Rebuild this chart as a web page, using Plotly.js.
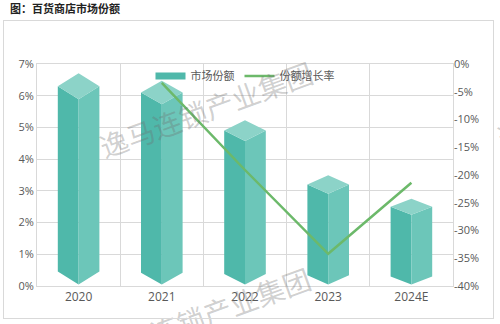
<!DOCTYPE html>
<html>
<head>
<meta charset="utf-8">
<script src="https://cdn.plot.ly/plotly-3.0.1.min.js"></script>
<style>
  html, body { margin: 0; padding: 0; background: #fff; }
  #wrap { position: relative; width: 500px; height: 324px; }
  #chart { width: 500px; height: 324px; }
  #frame { position: absolute; left: 3px; top: 20px; width: 489px; height: 297px;
           border: 1px solid #d9d9d9; pointer-events: none; }
</style>
</head>
<body>
<div id="wrap">
  <div id="chart"></div>
  <div id="frame"></div>
</div>
<script>
// ---- data ----
const categories = ['2020', '2021', '2022', '2023', '2024E'];
const marketShare = [6.3, 6.1, 4.9, 3.2, 2.5];          // %
const shareGrowth = [null, -3.4, -19.1, -34.2, -21.4];   // %
const leftTickVals = [0, 1, 2, 3, 4, 5, 6, 7];
const rightTickVals = [0, -5, -10, -15, -20, -25, -30, -35, -40];
const titleText = '图：百货商店市场份额';
const watermarkText = '逸马连锁产业集团';

// ---- style ----
const HW = 0.25;          // half width of a prism (category units)
const BASE = 0.05;        // front bottom vertex level
const colLeft = '#4fb8aa';
const colRight = '#6cc6b9';
const colTop = '#8cd3c8';
const lineCol = '#6cb96a';
const tickCol = '#595959';
const gridCol = '#d9d9d9';
const fontFam = 'Open Sans, Noto Sans CJK SC, sans-serif';

const xIdx = categories.map((c, i) => i);

function faces() {
  const L = {x: [], y: []}, R = {x: [], y: []}, T = {x: [], y: []};
  marketShare.forEach((v, i) => {
    const d = 0.41 - 0.04 * i;   // apparent depth of top face
    const x = xIdx[i];
    L.x.push(x - HW, x, x, x - HW, null);
    L.y.push(v, v - d, BASE, BASE + d, null);
    R.x.push(x + HW, x, x, x + HW, null);
    R.y.push(v, v - d, BASE, BASE + d, null);
    T.x.push(x, x + HW, x, x - HW, null);
    T.y.push(v + d, v, v - d, v, null);
  });
  return {L, R, T};
}
const F = faces();

function faceTrace(f, color) {
  return {
    type: 'scatter', mode: 'lines', x: f.x, y: f.y,
    fill: 'toself', fillcolor: color, line: {width: 0, color: color},
    hoverinfo: 'skip', showlegend: false, xaxis: 'x', yaxis: 'y'
  };
}

const traces = [
  faceTrace(F.L, colLeft),
  faceTrace(F.R, colRight),
  faceTrace(F.T, colTop),
  { // legend entry for bars
    type: 'scatter', mode: 'lines', x: [null], y: [null], name: '市场份额',
    line: {color: colLeft, width: 7}, xaxis: 'x', yaxis: 'y', hoverinfo: 'skip'
  },
  {
    type: 'scatter', mode: 'lines', x: xIdx, y: shareGrowth, name: '份额增长率',
    line: {color: lineCol, width: 2.5}, xaxis: 'x', yaxis: 'y2',
    connectgaps: false
  }
];

const wmFont = {family: 'Noto Sans CJK SC', size: 28, color: 'rgba(110,110,110,0.33)'};
function wm(px, py) {
  return {
    text: watermarkText, xref: 'paper', yref: 'paper',
    x: (px - 37) / 416, y: (286 - py) / 222,
    xanchor: 'center', yanchor: 'middle', showarrow: false,
    textangle: -20, font: wmFont
  };
}

const layout = {
  width: 500, height: 324,
  margin: {l: 37, r: 47, t: 64, b: 38},
  paper_bgcolor: '#fff', plot_bgcolor: '#fff',
  font: {family: fontFam, color: tickCol, size: 11},
  title: {
    text: '<b>' + titleText + '</b>',
    font: {family: 'Noto Sans CJK SC', size: 11, color: '#222'},
    x: 0.02, xanchor: 'left', xref: 'container',
    y: 1 - 9 / 324, yanchor: 'middle', yref: 'container'
  },
  showlegend: true,
  legend: {
    orientation: 'h', x: 0.5, xanchor: 'center', y: 0.946, yanchor: 'middle',
    bgcolor: 'rgba(0,0,0,0)', font: {size: 11, color: tickCol, family: fontFam},
    traceorder: 'normal', itemwidth: 30
  },
  xaxis: {
    range: [-0.5, 4.5], fixedrange: true,
    tickmode: 'array', tickvals: xIdx, ticktext: categories,
    showgrid: false, zeroline: false, ticks: '',
    tickfont: {size: 12, color: tickCol},
    showline: true, mirror: true, linecolor: gridCol, linewidth: 1,
    minor: {tickmode: 'array', tickvals: [-0.5, 0.5, 1.5, 2.5, 3.5, 4.5],
            showgrid: true, gridcolor: gridCol, gridwidth: 1, ticks: ''}
  },
  yaxis: {
    range: [0, 7], tickmode: 'array', tickvals: leftTickVals,
    ticktext: leftTickVals.map(v => v + '%'),
    showgrid: true, gridcolor: gridCol, zeroline: false, ticks: '',
    showline: true, mirror: true, linecolor: gridCol,
    tickfont: {size: 11, color: tickCol}
  },
  yaxis2: {
    overlaying: 'y', side: 'right', range: [-40, 0],
    tickmode: 'array', tickvals: rightTickVals,
    ticktext: rightTickVals.map(v => v + '%'),
    showgrid: false, zeroline: false, ticks: '',
    tickfont: {size: 11, color: tickCol}
  },
  annotations: [wm(206, 109), wm(204, 315), wm(604, 100)]
};

Plotly.newPlot('chart', traces, layout, {displayModeBar: false, staticPlot: true});
</script>
</body>
</html>
